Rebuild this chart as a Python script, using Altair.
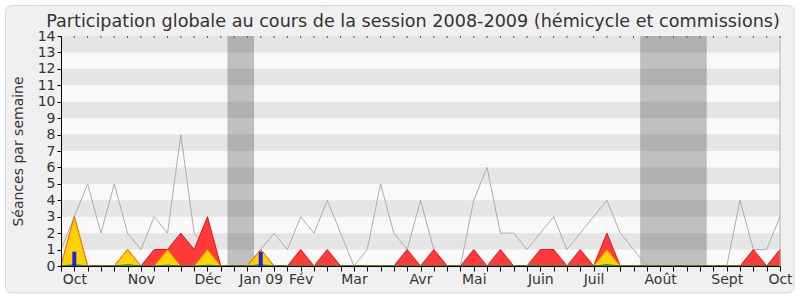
import altair as alt
import pandas as pd

# ---- data ----
title_text = "Participation globale au cours de la session 2008-2009 (hémicycle et commissions)"
weeks = list(range(55))
total = [1, 3, 5, 2, 5, 2, 1, 3, 2, 8, 2, 1, 0, 0, 0, 1, 2, 1, 3, 2,
         4, 2, 0, 1, 5, 2, 1, 4, 1, 0, 0, 4, 6, 2, 2, 1, 2, 3, 1, 2,
         3, 4, 2, 1, 0, 0, 0, 0, 0, 0, 0, 4, 1, 1, 3]
commission = [0, 3, 0, 0, 0, 1, 0, 1, 1, 2, 1, 3, 0, 0, 0, 1, 0, 0, 1, 0,
              1, 0, 0, 0, 0, 0, 1, 0, 1, 0, 0, 1, 0, 1, 0, 0, 1, 1, 0, 1,
              0, 2, 0, 0, 0, 0, 0, 0, 0, 0, 0, 0, 1, 0, 1]
hemicycle = [0, 3, 0, 0, 0, 1, 0, 0, 1, 0, 0, 1, 0, 0, 0, 1, 0, 0, 0, 0,
             0, 0, 0, 0, 0, 0, 0, 0, 0, 0, 0, 0, 0, 0, 0, 0, 0, 0, 0, 0,
             0, 1, 0, 0, 0, 0, 0, 0, 0, 0, 0, 0, 0, 0, 0]
green = [0, 0.08, 0, 0, 0, 0.08, 0, 0, 0.05, 0, 0, 0.05, 0, 0, 0, 0.08, 0, 0, 0, 0,
         0, 0, 0, 0, 0, 0, 0, 0, 0, 0, 0, 0, 0, 0, 0, 0, 0, 0, 0, 0,
         0, 0.08, 0, 0, 0, 0, 0, 0, 0, 0, 0, 0, 0, 0, 0]
interventions = [0, 0.87, 0, 0, 0, 0, 0, 0, 0, 0, 0, 0, 0, 0, 0, 0.87, 0, 0, 0, 0,
                 0, 0, 0, 0, 0, 0, 0, 0, 0, 0, 0, 0, 0, 0, 0, 0, 0, 0, 0, 0,
                 0, 0, 0, 0, 0, 0, 0, 0, 0, 0, 0, 0, 0, 0, 0]
month_weeks = [1, 6, 11, 15, 18, 22, 27, 31, 36, 40, 45, 50, 54]
month_labels = ["Oct", "Nov", "Déc", "Jan 09", "Fév", "Mar", "Avr", "Mai",
                "Juin", "Juil", "Août", "Sept", "Oct"]
holiday_start = [12.5, 43.5]
holiday_end = [14.5, 48.5]
stripe_low = [1, 3, 5, 7, 9, 11, 13]

df = pd.DataFrame({"week": weeks, "total": total, "commission": commission,
                   "hemicycle": hemicycle, "green": green, "blue": interventions})
stripes = pd.DataFrame({"lo": stripe_low, "hi": [v + 1 for v in stripe_low]})
holidays = pd.DataFrame({"s": holiday_start, "e": holiday_end})
titles = pd.DataFrame({"t": [title_text]})

FONT = "DejaVu Sans"
W, H = 719, 230

label_expr = "''"
for wk, lab in reversed(list(zip(month_weeks, month_labels))):
    label_expr = f"datum.value == {wk} ? '{lab}' : ({label_expr})"

xscale = alt.Scale(domain=[0, 54], nice=False, zero=False, padding=0)
yscale = alt.Scale(domain=[0, 14], nice=False, zero=True)

xaxis = alt.Axis(values=weeks, labelExpr=label_expr, title=None, grid=False,
                 tickSize=5, tickColor="#000", domainColor="#000", zindex=1,
                 labelFont=FONT, labelFontSize=14, labelColor="#333",
                 labelOverlap=False, labelFlush=False, labelPadding=1)
yaxis = alt.Axis(values=list(range(15)), title="Séances par semaine", grid=False,
                 tickSize=4, tickColor="#000", domainColor="#000", zindex=1,
                 labelFont=FONT, labelFontSize=14, labelColor="#333", labelPadding=2,
                 labelOverlap=False, labelFlush=False,
                 titleFont=FONT, titleFontSize=14, titleFontWeight="normal",
                 titleColor="#333", titleX=-43, titleY=115, titleAngle=270,
                 titleAlign="center", titleBaseline="middle")

base = alt.Chart(df)


def X(f):
    return alt.X(f, scale=xscale, axis=xaxis)


def Y(f):
    return alt.Y(f, scale=yscale, axis=yaxis)


def XD(v):
    return alt.XDatum(v, scale=xscale, axis=xaxis)


def YD(v):
    return alt.YDatum(v, scale=yscale, axis=yaxis)


frame = base.mark_rect(fill="#f0f0f0", stroke="#d6d6d6", strokeWidth=1,
                       cornerRadius=6, clip=False).encode(
    x=alt.value(-55.5), x2=alt.value(733), y=alt.value(-30.5), y2=alt.value(257)
).transform_filter("datum.week == 0")

plotbg = base.mark_rect(fill="#f9f9f9").encode(
    x=XD(0), x2=alt.datum(54), y=YD(0), y2=alt.datum(14)
).transform_filter("datum.week == 0")

stripe_layer = alt.Chart(stripes).mark_rect(fill="#e5e5e5").encode(
    x=XD(0), x2=alt.datum(54), y=Y("lo:Q"), y2="hi:Q")

holiday_layer = alt.Chart(holidays).mark_rect(fill="#000", opacity=0.23).encode(
    x=X("s:Q"), x2="e:Q", y=YD(0), y2=alt.datum(14))

line = base.mark_line(color="#adadad", strokeWidth=1).encode(
    x=X("week:Q"), y=Y("total:Q"))

red = base.mark_area(color="#ff3a3a", stroke="#e81010", strokeWidth=1,
                     opacity=1).encode(x=X("week:Q"), y=Y("commission:Q"))

yellow = base.mark_area(color="#ffd200", stroke="#ff7a00", strokeWidth=1,
                        opacity=1).encode(x=X("week:Q"), y=Y("hemicycle:Q"))

greenl = base.mark_area(color="#33cc33", stroke="#2a8a2a", strokeWidth=1,
                        opacity=1).encode(x=X("week:Q"), y=Y("green:Q"))

bars = base.mark_bar(color="#2020e0", size=4).encode(
    x=X("week:Q"), y=Y("blue:Q")).transform_filter("datum.blue > 0")

right_rule = base.mark_rule(color="#b0b0b0").encode(
    x=XD(54), y=YD(0), y2=alt.datum(14)
).transform_filter("datum.week == 0")

top_dots = base.mark_rule(color="#555", strokeWidth=1).encode(
    x=X("week:Q"), y=YD(14), y2=alt.datum(13.88))

title = alt.Chart(titles).mark_text(
    font=FONT, fontSize=17.6, color="#333", align="center", baseline="alphabetic",
    clip=False
).encode(text="t:N", x=alt.value(352), y=alt.value(-9))

chart = alt.layer(
    frame, plotbg, stripe_layer, holiday_layer, line, red, yellow, greenl,
    bars, right_rule, top_dots, title
).properties(
    width=W, height=H,
    autosize=alt.AutoSizeParams(type="none"),
    padding={"left": 61, "top": 36, "right": 20, "bottom": 34},
    background="#ffffff",
).configure_view(stroke=None)

chart.save("out.html", embed_options={"renderer": "svg", "actions": False})
